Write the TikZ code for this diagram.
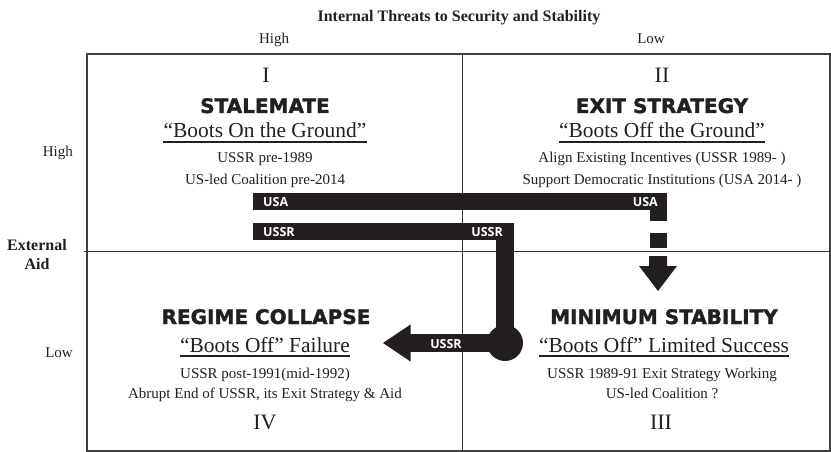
\documentclass[tikz,border=0pt]{standalone}
\usepackage{fontspec}
\setmainfont{Liberation Serif}
\newfontfamily\headfont{DejaVu Sans}[FakeBold=1.6]
\newfontfamily\barfont{Open Sans}
\definecolor{ink}{HTML}{231F20}
\begin{document}
\begin{tikzpicture}[x=1pt,y=-1pt,
  txt/.style={inner sep=0pt, anchor=base, text=ink, font=\fontsize{15}{18}\selectfont},
  roman/.style={txt, font=\fontsize{22}{26}\selectfont},
  head/.style={txt, font=\headfont\bfseries\fontsize{20}{24}\selectfont},
  boots/.style={txt, font=\fontsize{21.4}{25}\selectfont},
  axis/.style={txt, font=\bfseries\fontsize{16}{19}\selectfont},
  barlabel/.style={inner sep=0pt, anchor=base, text=white, font=\barfont\bfseries\fontsize{12.5}{14}\selectfont},
  bar/.style={draw=ink, line width=17.4pt, line join=miter, line cap=butt},
  ul/.style={draw=ink, line width=1.4pt},
  frame/.style={draw=black!75, line width=1.5pt},
  divider/.style={draw=black!80, line width=1pt}]
\useasboundingbox (0,0) rectangle (831,452);
% frame and dividers
\draw[frame] (87,54) rectangle (830.2,450.8);
\draw[divider] (462,54) -- (462,451);
\draw[divider] (84,251) -- (830,251);
% axis labels
\node[axis] (title) at (459,22) {Internal Threats to Security and Stability};
\node[txt] (colH) at (274,44) {High};
\node[txt] (colL) at (651,44) {Low};
\node[txt, anchor=base east] (rowH) at (73,157) {High};
\node[txt, anchor=base east] (rowL) at (73,357) {Low};
\node[axis] (ext) at (37,250) {External};
\node[axis] (aid) at (37,269) {Aid};
% quadrant I
\node[roman] (q1num) at (266,83) {I};
\node[head] (q1head) at (265,113) {STALEMATE};
\node[boots] (q1boots) at (265,138) {“Boots On the Ground”};
\node[txt] (q1a) at (265,162) {USSR pre-1989};
\node[txt] (q1b) at (265,184) {US-led Coalition pre-2014};
% quadrant II
\node[roman] (q2num) at (662,83) {II};
\node[head] (q2head) at (662,113) {EXIT STRATEGY};
\node[boots] (q2boots) at (662,138) {“Boots Off the Ground”};
\node[txt] (q2a) at (662,162) {Align Existing Incentives (USSR 1989- )};
\node[txt] (q2b) at (662,184) {Support Democratic Institutions (USA 2014- )};
% quadrant IV
\node[head] (q4head) at (266,324) {REGIME COLLAPSE};
\node[boots] (q4boots) at (265,352) {“Boots Off” Failure};
\node[txt] (q4a) at (265,378) {USSR post-1991(mid-1992)};
\node[txt] (q4b) at (265,398) {Abrupt End of USSR, its Exit Strategy \& Aid};
\node[roman] (q4num) at (265,429) {IV};
% quadrant III
\node[head] (q3head) at (664,324) {MINIMUM STABILITY};
\node[boots] (q3boots) at (664,352) {“Boots Off” Limited Success};
\node[txt] (q3a) at (662,378) {USSR 1989-91 Exit Strategy Working};
\node[txt] (q3b) at (662,398) {US-led Coalition ?};
\node[roman] (q3num) at (661,429) {III};
% underlines
\foreach \n in {q1boots,q2boots,q3boots,q4boots}
  \draw[ul] ([yshift=-4pt]\n.base west) -- ([yshift=-4pt]\n.base east);
% USA path
\coordinate (usaStart) at (253,201.4);
\coordinate (usaTurn) at (658.5,201.4);
\coordinate (usaEnd) at (658.5,220.7);
\draw[bar] (usaStart) -- (usaTurn) -- (usaEnd);
\fill[ink] (650,233) rectangle (667,248);
\fill[ink] (649,256) -- (667,256) -- (667,266) -- (677,266) -- (658,291) -- (639,266) -- (649,266) -- cycle;
% USSR path
\coordinate (ussrStart) at (253,231.4);
\coordinate (ussrTurn) at (505,231.4);
\coordinate (hub) at (505,343);
\coordinate (tipL) at (383,343);
\draw[bar] (ussrStart) -- (ussrTurn) -- (hub);
\fill[ink] (hub) circle (18);
\draw[bar] (hub) -- (410,343);
\fill[ink] (tipL) -- (410.5,324.5) -- (410.5,361.5) -- cycle;
% bar labels
\node[barlabel, anchor=base west] (usaA) at (263,206) {USA};
\node[barlabel, anchor=base east] (usaB) at (658,206) {USA};
\node[barlabel, anchor=base west] (ussrA) at (263,236) {USSR};
\node[barlabel, anchor=base east] (ussrB) at (503,236) {USSR};
\node[barlabel] (ussrC) at (446,348) {USSR};
\end{tikzpicture}
\end{document}
